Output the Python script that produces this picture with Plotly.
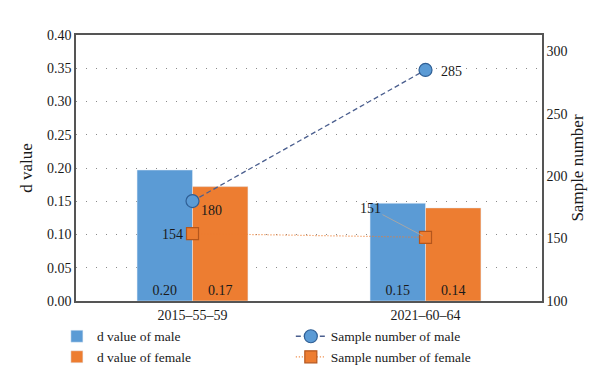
import plotly.graph_objects as go

categories = ["2015–55–59", "2021–60–64"]
d_male = [0.197, 0.147]
d_female = [0.172, 0.140]
d_male_labels = ["0.20", "0.15"]
d_female_labels = ["0.17", "0.14"]
n_male = [180, 285]
n_female = [154, 151]

FONT = "Liberation Serif"
BLUE = "#5B9BD5"
ORANGE = "#ED7D31"
TXT = "#1a1a1a"
FS = 14

fig = go.Figure()
fig.add_trace(go.Bar(x=categories, y=d_male, name="d value of male", marker_color=BLUE,
                     text=d_male_labels, textposition="inside", insidetextanchor="start",
                     textfont=dict(color=TXT, size=FS, family=FONT), legend="legend"))
fig.add_trace(go.Bar(x=categories, y=d_female, name="d value of female", marker_color=ORANGE,
                     text=d_female_labels, textposition="inside", insidetextanchor="start",
                     textfont=dict(color=TXT, size=FS, family=FONT), legend="legend"))
fig.add_trace(go.Scatter(x=categories, y=n_male, name="Sample number of male", yaxis="y2",
                         mode="lines+markers",
                         line=dict(color="#4A5E8E", dash="5px,3px", width=1.3),
                         marker=dict(symbol="circle", size=13, color=BLUE,
                                     line=dict(color="#2F5F95", width=1.2)),
                         legend="legend2"))
fig.add_trace(go.Scatter(x=categories, y=n_female, name="Sample number of female", yaxis="y2",
                         mode="lines+markers",
                         line=dict(color=ORANGE, dash="1px,2px", width=1.2),
                         marker=dict(symbol="square", size=12, color=ORANGE,
                                     line=dict(color="#B5561C", width=1.2)),
                         legend="legend2"))

ann = []
def lab(x, y, t, dx, dy):
    ann.append(dict(x=x, y=y, xref="x", yref="y2", text=t, showarrow=False,
                    xshift=dx, yshift=dy, font=dict(family=FONT, size=FS, color=TXT)))
lab(categories[0], n_male[0], str(n_male[0]), 19, -9)
lab(categories[1], n_male[1], str(n_male[1]), 26, -2)
lab(categories[0], n_female[0], str(n_female[0]), -20, -1)
ann.append(dict(x=categories[1], y=n_female[1], xref="x", yref="y2", text=str(n_female[1]),
                showarrow=True, arrowhead=0, arrowcolor="#A6A6A6", arrowwidth=1,
                ax=-55, ay=-29, standoff=3, font=dict(family=FONT, size=FS, color=TXT)))

leg_common = dict(orientation="v", yanchor="top", y=-0.075, tracegroupgap=0,
                  font=dict(family=FONT, size=13.5, color=TXT), itemwidth=30,
                  bgcolor="rgba(0,0,0,0)")

fig.update_layout(
    width=600, height=380,
    margin=dict(l=68, r=66, t=27, b=87, autoexpand=False),
    paper_bgcolor="white", plot_bgcolor="white",
    font=dict(family=FONT, size=FS, color=TXT),
    barmode="group", bargap=0.524, bargroupgap=0,
    showlegend=True,
    legend=dict(x=-0.041, xanchor="left", **leg_common),
    legend2=dict(x=0.461, xanchor="left", **leg_common),
    xaxis=dict(showline=True, linecolor="#555555", linewidth=1.5, mirror=True,
               ticks="", tickfont=dict(size=FS)),
    yaxis=dict(range=[0, 0.40], dtick=0.05, tickformat=".2f", showline=True,
               linecolor="#555555", linewidth=1.5, showgrid=True, gridcolor="#8a8a8a",
               griddash="1px,9px", gridwidth=1.2, zeroline=False, ticks="",
               tickfont=dict(size=FS),
               title=dict(text="d value", standoff=10)),
    yaxis2=dict(range=[100, 313], tickvals=[100, 150, 200, 250, 300], overlaying="y",
                side="right", showline=True, linecolor="#555555", linewidth=1.5,
                showgrid=False, zeroline=False, ticks="", tickfont=dict(size=FS),
                title=dict(text="Sample number", standoff=4)),
    annotations=ann,
)
fig.write_html("out.html")
